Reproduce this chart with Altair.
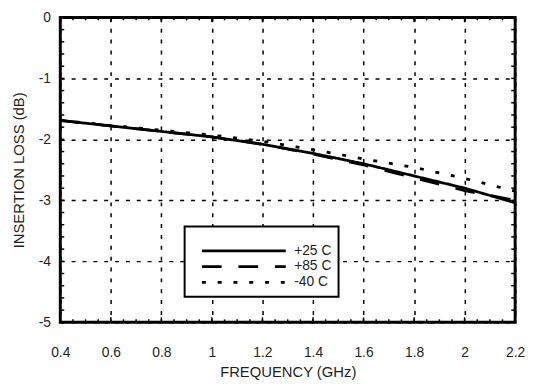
import altair as alt
import pandas as pd

# ---- data ----
freq = [0.4, 0.6, 0.8, 1.0, 1.2, 1.4, 1.6, 1.8, 2.0, 2.2]
loss_p25 = [-1.69, -1.78, -1.87, -1.96, -2.08, -2.23, -2.40, -2.60, -2.80, -3.04]
loss_p85 = [-1.69, -1.78, -1.87, -1.96, -2.08, -2.24, -2.42, -2.63, -2.84, -3.00]
loss_m40 = [-1.69, -1.77, -1.85, -1.93, -2.03, -2.17, -2.32, -2.46, -2.64, -2.85]
series = ["+25 C", "+85 C", "-40 C"]

x_major = [0.4, 0.6, 0.8, 1.0, 1.2, 1.4, 1.6, 1.8, 2.0, 2.2]
y_major = [0, -1, -2, -3, -4, -5]
x_minor = [round(0.4 + 0.05 * i, 2) for i in range(37)]
y_minor = [round(-0.2 * i, 1) for i in range(26)]

rows = []
for name, vals in zip(series, [loss_p25, loss_p85, loss_m40]):
    for f, v in zip(freq, vals):
        rows.append({"freq": f, "loss": v, "series": name})
df = pd.DataFrame(rows)

W, H = 461, 309
FONT = "Liberation Sans"
TXT = "#231f20"

xs = alt.Scale(domain=[0.4, 2.2], nice=False, zero=False)
ys = alt.Scale(domain=[-5, 0], nice=False, zero=False)

x_axis = alt.Axis(
    values=x_major, title="FREQUENCY (GHz)",
    labelExpr="format(datum.value, '~g')", labelFlush=False,
    grid=True, gridDash=[4, 7], gridColor="black", gridWidth=1.5, gridOpacity=1,
    ticks=False, domain=False, labelPadding=24, titlePadding=5,
    labelFontSize=14, titleFontSize=15, labelFont=FONT, titleFont=FONT,
    labelColor=TXT, titleColor=TXT, titleFontWeight="normal",
)
y_axis = alt.Axis(
    values=y_major, title="INSERTION LOSS (dB)",
    labelExpr="'' + datum.value", labelFlush=False,
    grid=True, gridDash=[4, 7], gridColor="black", gridWidth=1.5, gridOpacity=1,
    ticks=False, domain=False, labelPadding=10, titlePadding=12,
    labelFontSize=14, titleFontSize=15, labelFont=FONT, titleFont=FONT,
    labelColor=TXT, titleColor=TXT, titleFontWeight="normal",
)

lines = alt.Chart(df).mark_line(color="black", strokeWidth=2.8, clip=True).encode(
    x=alt.X("freq:Q", scale=xs, axis=x_axis),
    y=alt.Y("loss:Q", scale=ys, axis=y_axis),
    strokeDash=alt.StrokeDash(
        "series:N",
        scale=alt.Scale(domain=series, range=[[1, 0], [20, 17], [4, 12]]),
        legend=alt.Legend(
            title=" ", titleFontSize=9, titlePadding=0,
            orient="none", legendX=126, legendY=212,
            symbolType="M0.29,0H12.43", symbolSize=196, symbolStrokeWidth=2.8,
            symbolStrokeColor="black", symbolFillColor="transparent",
            labelFontSize=14, labelFont=FONT,
            labelColor=TXT, rowPadding=-2, labelOffset=87, padding=7,
            fillColor="white", strokeColor="black",
        ),
    ),
)

xminor_df = pd.DataFrame({"x": x_minor})
xmajor_df = pd.DataFrame({"x": x_major})
yminor_df = pd.DataFrame({"y": y_minor})

def xticks(d, y0, y1):
    return alt.Chart(d).mark_rule(color="black", strokeWidth=1.5).encode(
        x=alt.X("x:Q", scale=xs, axis=x_axis), y=alt.value(y0), y2=alt.value(y1))

def yticks(d, x0, x1):
    return alt.Chart(d).mark_rule(color="black", strokeWidth=1.5).encode(
        y=alt.Y("y:Q", scale=ys, axis=y_axis), x=alt.value(x0), x2=alt.value(x1))

chart = alt.layer(
    lines,
    xticks(xminor_df, 0, 3), xticks(xminor_df, H, H - 3),
    xticks(xmajor_df, 0, 5), xticks(xmajor_df, H, H - 5),
    yticks(yminor_df, 0, 4), yticks(yminor_df, W, W - 4),
).properties(
    width=W, height=H,
    autosize=alt.AutoSizeParams(type="none"),
    padding={"left": 53, "top": 7, "right": 12, "bottom": 60},
).configure_view(
    stroke="black", strokeWidth=3
).configure_legend(
    strokeWidth=2
)

chart.save("out.html", embed_options={"renderer": "svg", "actions": False})
